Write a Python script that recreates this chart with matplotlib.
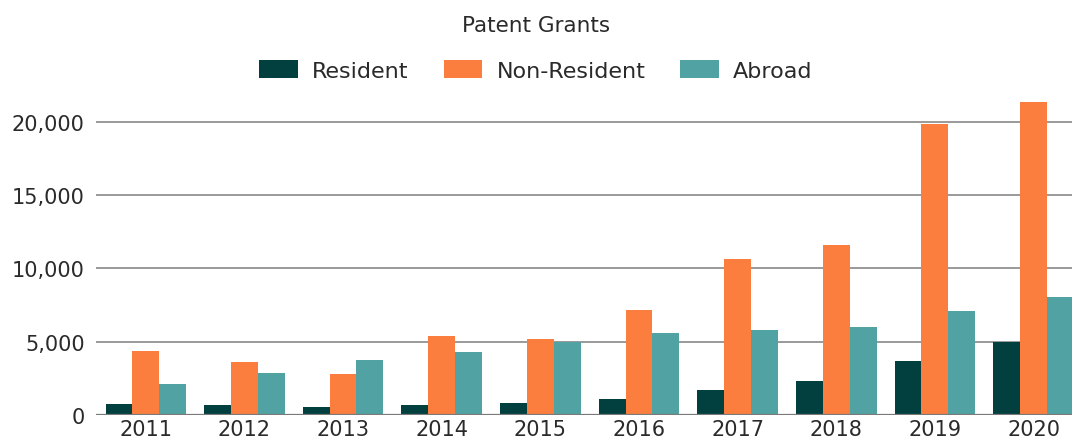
import matplotlib
matplotlib.use("Agg")
import matplotlib.pyplot as plt
import numpy as np

years = ["2011", "2012", "2013", "2014", "2015", "2016", "2017", "2018", "2019", "2020"]
resident = [750, 680, 570, 680, 800, 1090, 1700, 2290, 3650, 4970]
non_resident = [4360, 3590, 2770, 5400, 5180, 7130, 10670, 11600, 19860, 21360]
abroad = [2090, 2860, 3750, 4270, 4970, 5560, 5810, 6020, 7110, 8040]
series_names = ["Resident", "Non-Resident", "Abroad"]
colors = ["#01403F", "#FB7E3E", "#51A3A3"]
yticks = [0, 5000, 10000, 15000, 20000]

plt.rcParams['font.family'] = ['DejaVu Sans']
text_color = "#2a2a2a"

fig = plt.figure(figsize=(10.72, 4.39), dpi=100)
ax = fig.add_axes([0.090, 0.0524, 0.910, 0.7347])

x = np.arange(len(years))
w = 0.272
handles = []
for i, (vals, name, c) in enumerate(zip([resident, non_resident, abroad], series_names, colors)):
    h = ax.bar(x + (i - 1) * w, vals, width=w, color=c, label=name, zorder=3)
    handles.append(h)

ax.set_xlim(-0.5, 9.39)
ax.set_ylim(0, 22000)
ax.set_yticks(yticks)
ax.set_yticklabels([f"{v:,}" for v in yticks])
ax.set_xticks(x)
ax.set_xticklabels(years)
ax.yaxis.grid(True, color="#9a9a9a", linewidth=1.4, zorder=0)
ax.set_axisbelow(True)
for s in ax.spines.values():
    s.set_visible(False)
ax.axhline(0, color="#7a7a7a", linewidth=1.6, zorder=4)
ax.tick_params(axis='both', length=0, labelsize=15, colors=text_color)
ax.tick_params(axis='y', pad=8.4)
ax.tick_params(axis='x', pad=3)

fig.text(0.5, 1 - 31.7 / 439, "Patent Grants", ha='center', va='baseline',
         fontsize=15.5, color=text_color)

leg = fig.legend(handles=handles, labels=series_names, loc='center',
                 bbox_to_anchor=(0.5, 1 - 71.6 / 439), ncol=3, frameon=False,
                 fontsize=16, handlelength=1.74, handleheight=0.84,
                 handletextpad=0.63, columnspacing=1.58, borderaxespad=0)
for t in leg.get_texts():
    t.set_color(text_color)

fig.savefig("out.png", dpi=100)
